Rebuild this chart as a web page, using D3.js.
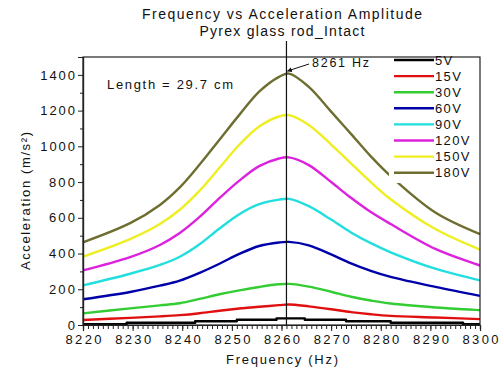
<!DOCTYPE html>
<html>
<head>
<meta charset="utf-8">
<script src="https://cdn.jsdelivr.net/npm/d3@7/dist/d3.min.js"></script>
<style>
  html, body { margin: 0; padding: 0; background: #fff; }
  svg { display: block; font-family: "Liberation Sans", Arial, sans-serif; }
</style>
</head>
<body>
<svg id="chart" width="500" height="372"></svg>
<script>
// ---- data ----
const freqs = [8220, 8229.5, 8235.5, 8239.5, 8243.5, 8247.5, 8251.5, 8255.5, 8259.5, 8261.5, 8265.5, 8270, 8274, 8278, 8282, 8291, 8300];
const v15  = [28, 40, 48, 55, 66, 80, 92, 102, 111, 115, 104, 88, 72, 60, 51, 42, 33];
const v30  = [65, 93, 110, 122, 146, 172, 194, 213, 228, 230, 215, 186, 158, 137, 120, 98, 83];
const v60  = [144, 185, 220, 248, 292, 343, 398, 442, 462, 465, 446, 395, 345, 303, 269, 213, 163];
const v90  = [222, 287, 336, 382, 452, 540, 620, 676, 702, 706, 665, 590, 518, 458, 407, 315, 250];
const v120 = [306, 380, 448, 515, 605, 710, 808, 889, 932, 938, 895, 800, 712, 632, 565, 426, 333];
const v150 = [383, 481, 565, 645, 752, 880, 1009, 1111, 1167, 1175, 1120, 1010, 905, 800, 704, 537, 422];
const v180 = [463, 570, 672, 770, 898, 1037, 1176, 1306, 1389, 1407, 1333, 1194, 1070, 944, 833, 630, 509];
// 5 V trace is a staircase (quantised): step start frequencies and levels
const freqs5 = [8220, 8228.8, 8242.6, 8251, 8259, 8264.7, 8273, 8282, 8296.6, 8300];
const v5     = [4, 13, 21, 29, 37, 29, 21, 13, 4, 4];

const seriesNames = ["5V", "15V", "30V", "60V", "90V", "120V", "150V", "180V"];
const seriesColors = ["#000000", "#e01010", "#33cc33", "#0000a8", "#22dede", "#dd22dd", "#eeee22", "#6e6e30"];
const yTicksMajor = [0, 200, 400, 600, 800, 1000, 1200, 1400];
const xTicksMajor = [8220, 8230, 8240, 8250, 8260, 8270, 8280, 8290, 8300];
const peakFreq = 8261;

const titleLines = ["Frequency vs Acceleration Amplitude", "Pyrex glass rod_Intact"];

// ---- chart ----
const svg = d3.select("#chart");
const x = d3.scaleLinear().domain([8220, 8300]).range([83, 480]);
const y = d3.scaleLinear().domain([0, 1500]).range([325, 57]);

const series = [
  {name: seriesNames[0], color: seriesColors[0], f: freqs5, v: v5, step: true},
  {name: seriesNames[1], color: seriesColors[1], f: freqs, v: v15},
  {name: seriesNames[2], color: seriesColors[2], f: freqs, v: v30},
  {name: seriesNames[3], color: seriesColors[3], f: freqs, v: v60},
  {name: seriesNames[4], color: seriesColors[4], f: freqs, v: v90},
  {name: seriesNames[5], color: seriesColors[5], f: freqs, v: v120},
  {name: seriesNames[6], color: seriesColors[6], f: freqs, v: v150},
  {name: seriesNames[7], color: seriesColors[7], f: freqs, v: v180}
];

// title
svg.append("text").attr("x", 282).attr("y", 18.5).attr("text-anchor", "middle")
  .attr("font-size", 14).attr("textLength", 280).attr("lengthAdjust", "spacing")
  .attr("fill", "#111").text(titleLines[0]);
svg.append("text").attr("x", 282).attr("y", 36).attr("text-anchor", "middle")
  .attr("font-size", 14).attr("textLength", 165).attr("lengthAdjust", "spacing")
  .attr("fill", "#111").text(titleLines[1]);

// lines
const lineSmooth = d3.line().x(d => x(d[0])).y(d => y(d[1])).curve(d3.curveCatmullRom.alpha(0.5));
const lineStep = d3.line().x(d => x(d[0])).y(d => y(d[1])).curve(d3.curveStepAfter);
series.forEach(s => {
  const pts = s.f.map((f, i) => [f, s.v[i]]);
  svg.append("path").datum(pts)
    .attr("d", s.step ? lineStep : lineSmooth)
    .attr("fill", "none").attr("stroke", s.color).attr("stroke-width", 2.4)
    .attr("stroke-linejoin", "round");
});

// legend (white box masks curves underneath)
svg.append("rect").attr("x", 389).attr("y", 52).attr("width", 90).attr("height", 131).attr("fill", "#fff");
series.forEach((s, i) => {
  const ly = 60 + i * 16.1;
  svg.append("line").attr("x1", 394).attr("x2", 434).attr("y1", ly).attr("y2", ly)
    .attr("stroke", s.color).attr("stroke-width", 2.4);
  svg.append("text").attr("x", 435).attr("y", ly).attr("dy", "0.36em")
    .attr("font-size", 13).attr("fill", "#111")
    .attr("textLength", s.name.length * 8.6).attr("lengthAdjust", "spacing")
    .text(s.name);
});

// frame
svg.append("rect").attr("x", x(8220)).attr("y", y(1500))
  .attr("width", x(8300) - x(8220)).attr("height", y(0) - y(1500))
  .attr("fill", "none").attr("stroke", "#222").attr("stroke-width", 1.2);

// y axis
const yAxisMinor = d3.axisLeft(y).tickValues(d3.range(100, 1501, 200)).tickSize(3).tickFormat("");
const gyMinor = svg.append("g").attr("transform", `translate(${x(8220)},0)`).call(yAxisMinor);
const yAxis = d3.axisLeft(y).tickValues(yTicksMajor).tickSize(5).tickPadding(3).tickFormat(d3.format("d"));
const gy = svg.append("g").attr("transform", `translate(${x(8220)},0)`).call(yAxis);
[gy, gyMinor].forEach(g => {
  g.select(".domain").attr("stroke", "#222").attr("stroke-width", 1.2);
  g.selectAll(".tick line").attr("stroke", "#222");
});
gy.selectAll(".tick text").attr("font-size", 13).attr("fill", "#111")
  .attr("font-family", "Liberation Sans, Arial, sans-serif")
  .each(function(d) {
    const s = String(d);
    if (s.length > 1) d3.select(this).attr("textLength", s.length * 8.7).attr("lengthAdjust", "spacing");
  });

// x axis
const xAxisMinor = d3.axisBottom(x).tickValues(d3.range(8220, 8301, 1)).tickSize(4).tickFormat("");
const gxMinor = svg.append("g").attr("transform", `translate(0,${y(0)})`).call(xAxisMinor);
const xAxis = d3.axisBottom(x).tickValues(xTicksMajor).tickSize(6).tickPadding(4).tickFormat(d3.format("d"));
const gx = svg.append("g").attr("transform", `translate(0,${y(0)})`).call(xAxis);
[gx, gxMinor].forEach(g => {
  g.select(".domain").attr("stroke", "#222").attr("stroke-width", 1.2);
  g.selectAll(".tick line").attr("stroke", "#222");
});
gx.selectAll(".tick text").attr("font-size", 13).attr("fill", "#111")
  .attr("font-family", "Liberation Sans, Arial, sans-serif")
  .attr("textLength", 36).attr("lengthAdjust", "spacing");

// axis titles
svg.append("text").attr("transform", "translate(30,201) rotate(-90)")
  .attr("text-anchor", "middle").attr("font-size", 13).attr("fill", "#111")
  .attr("textLength", 138).attr("lengthAdjust", "spacing")
  .text("Acceleration (m/s²)");
svg.append("text").attr("x", 282).attr("y", 364).attr("text-anchor", "middle")
  .attr("font-size", 13).attr("fill", "#111")
  .attr("textLength", 112).attr("lengthAdjust", "spacing")
  .text("Frequency (Hz)");

// resonance marker
svg.append("line").attr("x1", x(peakFreq)).attr("x2", x(peakFreq))
  .attr("y1", 41).attr("y2", y(0)).attr("stroke", "#111").attr("stroke-width", 1.2);

svg.append("defs").append("marker").attr("id", "ah")
  .attr("viewBox", "0 0 10 10").attr("refX", 9).attr("refY", 5)
  .attr("markerWidth", 5).attr("markerHeight", 5).attr("orient", "auto")
  .append("path").attr("d", "M0,0 L10,5 L0,10 z").attr("fill", "#111");
svg.append("line").attr("x1", 309).attr("y1", 64).attr("x2", x(peakFreq) + 1).attr("y2", 71)
  .attr("stroke", "#111").attr("stroke-width", 1).attr("marker-end", "url(#ah)");
svg.append("text").attr("x", 312).attr("y", 67).attr("font-size", 12.5).attr("fill", "#111")
  .attr("textLength", 57).attr("lengthAdjust", "spacing").text(peakFreq + " Hz");

svg.append("text").attr("x", 107).attr("y", 89).attr("font-size", 13).attr("fill", "#111")
  .attr("textLength", 126).attr("lengthAdjust", "spacing").text("Length = 29.7 cm");
</script>
</body>
</html>
